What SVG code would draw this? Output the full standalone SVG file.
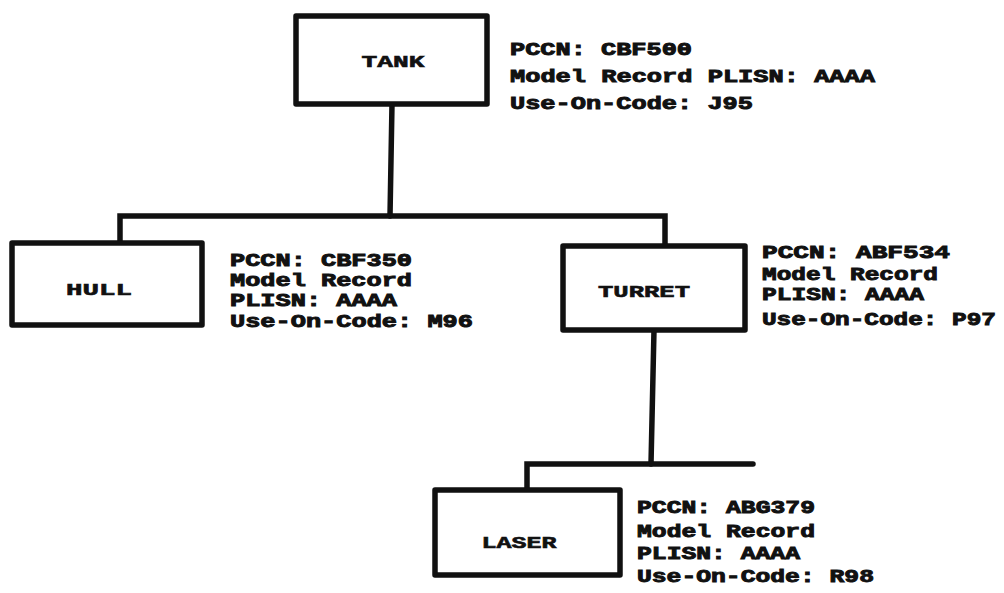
<svg xmlns="http://www.w3.org/2000/svg" width="1004" height="593" viewBox="0 0 1004 593">
<style>
.box{fill:#fff;stroke:#111;stroke-width:5.5;stroke-linejoin:round}
.ln{stroke:#111;stroke-width:5.5;stroke-linecap:round;fill:none}
.lbl{font-family:"Liberation Mono",monospace;font-weight:bold;font-size:17px;fill:#111;stroke:#111;stroke-width:0.6;text-anchor:middle}
.info{font-family:"Liberation Mono",monospace;font-weight:bold;font-size:17.5px;fill:#111;stroke:#111;stroke-width:0.9}
</style>
<rect width="1004" height="593" fill="#fff"/>
<g id="connectors">
<path class="ln" d="M392 104 L390 216"/>
<path class="ln" d="M120 243 L120 216 L665 216 L665 246"/>
<path class="ln" d="M654 330 L651 464"/>
<path class="ln" d="M527 490 L527 464 L753 464"/>
</g>
<g id="tank">
<rect class="box" x="296" y="16" width="191" height="88"/>
<text class="lbl" x="393" y="67" textLength="63" lengthAdjust="spacingAndGlyphs">TANK</text>
<text class="info" x="510" y="55" textLength="182" lengthAdjust="spacingAndGlyphs">PCCN: CBF500</text>
<text class="info" x="510" y="82" textLength="365" lengthAdjust="spacingAndGlyphs">Model Record PLISN: AAAA</text>
<text class="info" x="510" y="109" textLength="243" lengthAdjust="spacingAndGlyphs">Use-On-Code: J95</text>
</g>
<g id="hull">
<rect class="box" x="12" y="243" width="190" height="82"/>
<text class="lbl" x="99" y="295" textLength="66" lengthAdjust="spacingAndGlyphs">HULL</text>
<text class="info" x="230" y="266" textLength="182" lengthAdjust="spacingAndGlyphs">PCCN: CBF350</text>
<text class="info" x="230" y="286" textLength="182" lengthAdjust="spacingAndGlyphs">Model Record</text>
<text class="info" x="230" y="306" textLength="167" lengthAdjust="spacingAndGlyphs">PLISN: AAAA</text>
<text class="info" x="230" y="327" textLength="243" lengthAdjust="spacingAndGlyphs">Use-On-Code: M96</text>
</g>
<g id="turret">
<rect class="box" x="563" y="246" width="182" height="84"/>
<text class="lbl" x="644" y="297" textLength="92" lengthAdjust="spacingAndGlyphs">TURRET</text>
<text class="info" x="762" y="258" textLength="188" lengthAdjust="spacingAndGlyphs">PCCN:  ABF534</text>
<text class="info" x="762" y="280" textLength="176" lengthAdjust="spacingAndGlyphs">Model Record</text>
<text class="info" x="762" y="300" textLength="162" lengthAdjust="spacingAndGlyphs">PLISN: AAAA</text>
<text class="info" x="762" y="325" textLength="234" lengthAdjust="spacingAndGlyphs">Use-On-Code: P97</text>
</g>
<g id="laser">
<rect class="box" x="435" y="490" width="185" height="85"/>
<text class="lbl" x="519" y="548" textLength="75" lengthAdjust="spacingAndGlyphs">LASER</text>
<text class="info" x="637" y="513" textLength="178" lengthAdjust="spacingAndGlyphs">PCCN: ABG379</text>
<text class="info" x="637" y="537" textLength="178" lengthAdjust="spacingAndGlyphs">Model Record</text>
<text class="info" x="637" y="559" textLength="163" lengthAdjust="spacingAndGlyphs">PLISN: AAAA</text>
<text class="info" x="637" y="582" textLength="237" lengthAdjust="spacingAndGlyphs">Use-On-Code: R98</text>
</g>
</svg>
